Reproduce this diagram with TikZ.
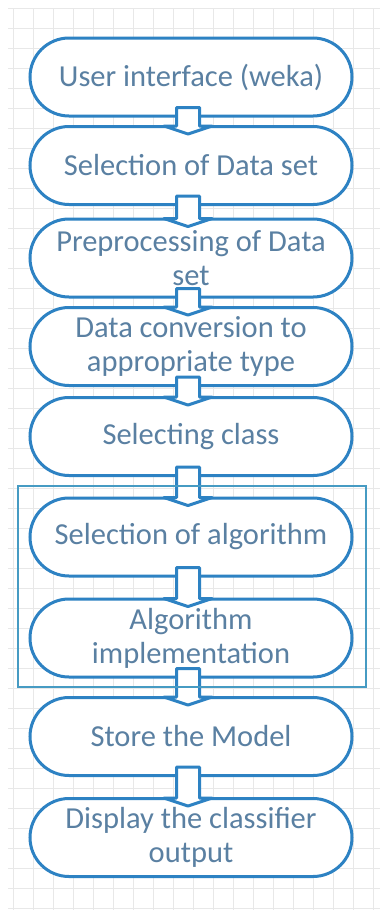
\documentclass[tikz,border=0pt]{standalone}
\usepackage{fontspec}
\setmainfont{Carlito}
\usetikzlibrary{calc}
\definecolor{nodeblue}{RGB}{45,130,195}
\definecolor{txtblue}{RGB}{90,128,162}
\definecolor{rectblue}{RGB}{70,155,195}
\definecolor{gridgray}{RGB}{232,232,232}
\tikzset{
  stage/.style={draw=nodeblue, line width=3pt, fill=white, rounded corners=39pt,
    minimum width=322pt, minimum height=78pt, text=txtblue, align=center,
    font=\fontsize{30.5}{34}\selectfont, inner sep=0pt},
  blockarr/.style={draw=nodeblue, line width=3pt, fill=white, line join=round},
  gridline/.style={draw=gridgray, line width=0.8pt},
  groupbox/.style={draw=rectblue, line width=1.5pt}
}
\newcommand{\blockarrow}[2]{%
  \draw[blockarr] let \p1=(#1.south), \p2=(#2.north) in
    (\x1-14.5pt,\y1+10pt) -- (\x1-14.5pt,\y2-1pt) -- (\x1-27pt,\y2-1pt) --
    (\x1-3pt,\y2-9pt) -- (\x1+21pt,\y2-1pt) -- (\x1+8.5pt,\y2-1pt) --
    (\x1+8.5pt,\y1+10pt) -- cycle;}
\begin{document}
\begin{tikzpicture}[x=1pt,y=-1pt]
\useasboundingbox (0,0) rectangle (385,913);
\fill[white] (0,0) rectangle (385,913);
% grid
\foreach \gx in {13,33,...,373} \draw[gridline] (\gx,8) -- (\gx,910);
\foreach \gy in {8,28,...,908} \draw[gridline] (8,\gy) -- (380,\gy);
% nodes
\node[stage] (n1) at (191,77) {User interface (weka)};
\node[stage] (n2) at (191,165.5) {Selection of Data set};
\node[stage] (n3) at (191,258) {Preprocessing of Data\\set};
\node[stage] (n4) at (191,346.5) {Data conversion to\\appropriate type};
\node[stage] (n5) at (191,436.5) {Selecting class};
\node[stage] (n6) at (191,537) {Selection of algorithm};
\node[stage] (n7) at (191,638) {Algorithm\\implementation};
\node[stage] (n8) at (191,736.5) {Store the Model};
\node[stage] (n9) at (191,837.5) {Display the classifier\\output};
% arrows
\blockarrow{n1}{n2}
\blockarrow{n2}{n3}
\blockarrow{n3}{n4}
\blockarrow{n4}{n5}
\blockarrow{n5}{n6}
\blockarrow{n6}{n7}
\blockarrow{n7}{n8}
\blockarrow{n8}{n9}
% group box
\draw[groupbox] (18,486) rectangle (366,687);
\end{tikzpicture}
\end{document}
